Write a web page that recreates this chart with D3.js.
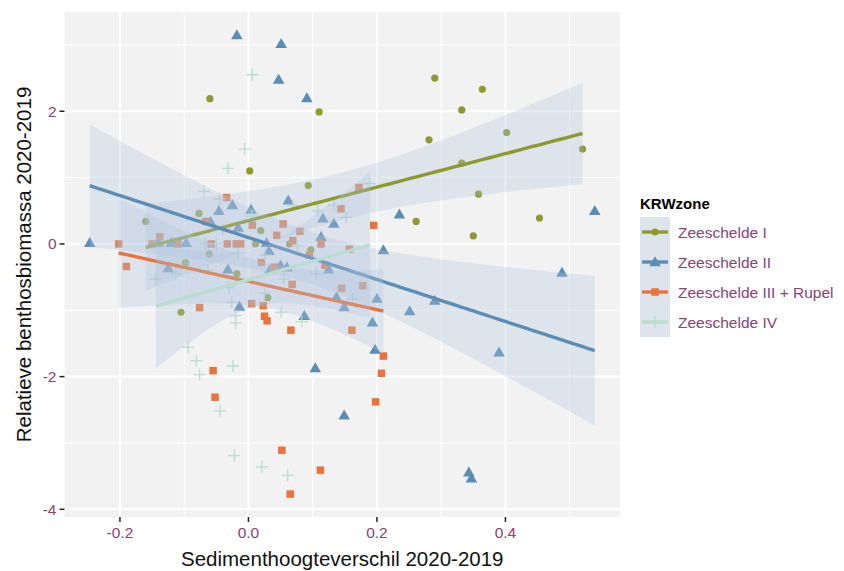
<!DOCTYPE html>
<html>
<head>
<meta charset="utf-8">
<script src="https://cdn.jsdelivr.net/npm/d3@7"></script>
<style>
  body { margin: 0; background: #ffffff; }
  text { font-family: "Liberation Sans", Arial, Helvetica, sans-serif; }
</style>
</head>
<body>
<svg id="chart" width="844" height="571"></svg>
<script>
// KRW zones (legend order) and their colours / symbols
const zones = ["Zeeschelde I", "Zeeschelde II", "Zeeschelde III + Rupel", "Zeeschelde IV"];
const zoneColors = ["#8f9a2e", "#5b8db5", "#e8743b", "#b9ddd0"];
const zoneShapes = ["circle", "triangle", "square", "plus"];

// Sediment height difference (x) and relative benthos biomass (y) per zone
const zoneI_x = [-0.060, 0.110, 0.002, 0.093, -0.077, -0.160, 0.019, 0.011, 0.064, 0.097, -0.061, -0.098, -0.018, 0.030, -0.105,
                 0.290, 0.364, 0.332, 0.281, 0.402, 0.520, 0.332, 0.358, 0.261, 0.453, 0.350];
const zoneI_y = [2.19, 1.99, 1.10, 0.88, 0.46, 0.34, 0.20, 0.00, 0.00, -0.09, -0.15, -0.28, -0.45, -0.81, -1.03,
                 2.50, 2.33, 2.02, 1.57, 1.68, 1.43, 1.22, 0.75, 0.34, 0.39, 0.12];

const zoneII_x = [-0.247, -0.140, -0.120, -0.097, -0.125, -0.059, -0.046, -0.025, -0.018, -0.016, -0.032, -0.014,
                  0.004, 0.028, 0.032, 0.033, 0.051, 0.047, 0.050, 0.060, 0.062, 0.087, 0.091, 0.104, 0.113, 0.116, 0.125,
                  0.133, 0.137, 0.149, 0.149, 0.193, 0.197, 0.200, 0.210, 0.235, 0.251, 0.290, 0.343, 0.347, 0.390,
                  0.488, 0.539];
const zoneII_y = [0.02, 0.02, 0.02, 0.02, -0.36, 0.34, 0.50, 0.59, 3.15, 0.25, -0.38, -0.94,
                  0.52, 0.02, -0.10, -0.39, 3.02, 2.48, -0.32, -0.35, 0.66, -1.08, 2.20, -1.87, 0.11, 0.39, -0.38,
                  0.31, -0.80, -0.95, -2.58, -1.18, -1.59, -0.82, -0.09, 0.45, -1.01, -0.85, -3.44, -3.53, -1.63,
                  -0.43, 0.50];

const zoneIII_x = [-0.202, -0.190, -0.150, -0.138, -0.110, -0.076, -0.067, -0.058, -0.055, -0.052, -0.034, -0.033,
                   -0.019, -0.012, 0.005, 0.006, 0.020, 0.023, 0.025, 0.029, 0.040, 0.044, 0.052, 0.054, 0.065,
                   0.066, 0.068, 0.069, 0.080, 0.095, 0.112, 0.113, 0.119, 0.144, 0.145, 0.157, 0.161, 0.172,
                   0.178, 0.195, 0.198, 0.207, 0.210];
const zoneIII_y = [0.00, -0.34, 0.00, 0.11, 0.00, -0.96, 0.34, 0.00, -1.91, -2.31, 0.70, 0.00,
                   0.00, 0.00, -0.90, 0.28, -0.28, -0.93, -1.09, -1.16, -0.35, 0.13, -3.11, 0.30, -3.77,
                   -1.30, -0.61, 0.05, 0.19, -0.17, -3.41, 0.00, -0.32, 0.53, -0.67, -0.08, -1.30, 0.85,
                   -0.63, 0.28, -2.38, -1.95, -1.69];

const zoneIV_x = [-0.144, -0.113, -0.094, -0.081, -0.076, -0.069, -0.067, -0.063, -0.050, -0.045, -0.044, -0.040,
                  -0.032, -0.030, -0.026, -0.024, -0.022, -0.020, -0.020, -0.016, -0.006, 0.005, 0.006, 0.021,
                  0.025, 0.026, 0.051, 0.055, 0.061, 0.069, 0.076, 0.083, 0.106, 0.108, 0.133, 0.152, 0.162, 0.189];
const zoneIV_y = [-0.53, -0.45, -1.56, -1.76, -1.97, 0.79, 0.00, -0.40, 0.00, 0.68, -2.52, 0.22,
                  1.14, -0.66, -0.88, -1.84, -3.19, -1.08, -1.19, -0.14, 1.43, 0.42, 2.55, -3.36,
                  -0.74, -0.17, -1.03, -0.53, -3.49, 0.58, -0.03, -1.17, -0.45, 0.50, 0.58, 0.40, -0.83, 0.91];

// Axis ticks
const xMajorTicks = [-0.2, 0.0, 0.2, 0.4];
const xTickLabels = ["-0.2", "0.0", "0.2", "0.4"];
const xMinorTicks = [-0.1, 0.1, 0.3, 0.5];
const yMajorTicks = [-4, -2, 0, 2];
const yTickLabels = ["-4", "-2", "0", "2"];
const yMinorTicks = [-3, -1, 1, 3];

const xTitle = "Sedimenthoogteverschil 2020-2019";
const yTitle = "Relatieve benthosbiomassa 2020-2019";
const legendTitle = "KRWzone";

// ---- layout ----
const svg = d3.select("#chart");
const panel = { left: 64.5, right: 620, top: 12, bottom: 517 };
const labelColor = "#8b4272";
const bandFill = "#b0c4de";
const bandOpacity = 0.3;

const seriesX = [zoneI_x, zoneII_x, zoneIII_x, zoneIV_x];
const seriesY = [zoneI_y, zoneII_y, zoneIII_y, zoneIV_y];
const series = zones.map((z, i) => ({
  zone: z, color: zoneColors[i], shape: zoneShapes[i],
  points: seriesX[i].map((xv, j) => ({ x: xv, y: seriesY[i][j] }))
}));

// scales with 5% expansion on both sides of the data range
function expanded(ext) { const p = (ext[1] - ext[0]) * 0.05; return [ext[0] - p, ext[1] + p]; }
const allX = seriesX.flat(), allY = seriesY.flat();
const x = d3.scaleLinear().domain(expanded(d3.extent(allX))).range([panel.left, panel.right]);
const y = d3.scaleLinear().domain(expanded(d3.extent(allY))).range([panel.bottom, panel.top]);

// panel background and grid
svg.append("rect").attr("x", panel.left).attr("y", panel.top)
  .attr("width", panel.right - panel.left).attr("height", panel.bottom - panel.top)
  .attr("fill", "#f2f2f2");

const grid = svg.append("g");
grid.selectAll(".xminor").data(xMinorTicks).join("line")
  .attr("x1", d => x(d)).attr("x2", d => x(d)).attr("y1", panel.top).attr("y2", panel.bottom)
  .attr("stroke", "#ffffff").attr("stroke-width", 1);
grid.selectAll(".yminor").data(yMinorTicks).join("line")
  .attr("y1", d => y(d)).attr("y2", d => y(d)).attr("x1", panel.left).attr("x2", panel.right)
  .attr("stroke", "#ffffff").attr("stroke-width", 1);
grid.selectAll(".xmajor").data(xMajorTicks).join("line")
  .attr("x1", d => x(d)).attr("x2", d => x(d)).attr("y1", panel.top).attr("y2", panel.bottom)
  .attr("stroke", "#ffffff").attr("stroke-width", 2);
grid.selectAll(".ymajor").data(yMajorTicks).join("line")
  .attr("y1", d => y(d)).attr("y2", d => y(d)).attr("x1", panel.left).attr("x2", panel.right)
  .attr("stroke", "#ffffff").attr("stroke-width", 2);

// symbols
function drawSymbol(g, shape, color) {
  if (shape === "plus") {
    const h = 6;
    g.append("path").attr("d", `M${-h},0H${h}M0,${-h}V${h}`)
      .attr("stroke", color).attr("stroke-width", 1.3).attr("fill", "none");
  } else if (shape === "circle") {
    g.append("circle").attr("r", 3.6).attr("fill", color);
  } else if (shape === "triangle") {
    g.append("path").attr("d", d3.symbol(d3.symbolTriangle, 58)()).attr("transform", "translate(0,1)").attr("fill", color);
  } else {
    g.append("path").attr("d", d3.symbol(d3.symbolSquare, 56)()).attr("fill", color);
  }
}

// points
const pointsLayer = svg.append("g");
series.forEach(s => {
  s.points.forEach(p => {
    const g = pointsLayer.append("g").attr("transform", `translate(${x(p.x)},${y(p.y)})`);
    drawSymbol(g, s.shape, s.color);
  });
});

// linear fit with 95% confidence band
function tQuantile975(df) {
  const z = 1.959964, z3 = z ** 3, z5 = z ** 5, z7 = z ** 7;
  return z + (z3 + z) / (4 * df) + (5 * z5 + 16 * z3 + 3 * z) / (96 * df * df)
    + (3 * z7 + 19 * z5 + 17 * z3 - 15 * z) / (384 * df ** 3);
}
function fitLine(pts) {
  const n = pts.length;
  const mx = d3.mean(pts, d => d.x), my = d3.mean(pts, d => d.y);
  const sxx = d3.sum(pts, d => (d.x - mx) ** 2);
  const sxy = d3.sum(pts, d => (d.x - mx) * (d.y - my));
  const b = sxy / sxx, a = my - b * mx;
  const sse = d3.sum(pts, d => (d.y - (a + b * d.x)) ** 2);
  const s = Math.sqrt(sse / (n - 2));
  const t = tQuantile975(n - 2);
  const [x0, x1] = d3.extent(pts, d => d.x);
  return d3.range(80).map(i => {
    const gx = x0 + (x1 - x0) * i / 79;
    const fit = a + b * gx;
    const se = s * Math.sqrt(1 / n + (gx - mx) ** 2 / sxx);
    return { x: gx, y: fit, lo: fit - t * se, hi: fit + t * se };
  });
}

const smoothLayer = svg.append("g");
const area = d3.area().x(d => x(d.x)).y0(d => y(d.lo)).y1(d => y(d.hi));
const line = d3.line().x(d => x(d.x)).y(d => y(d.y));
series.forEach(s => {
  const fit = fitLine(s.points);
  smoothLayer.append("path").attr("d", area(fit))
    .attr("fill", bandFill).attr("fill-opacity", bandOpacity);
  smoothLayer.append("path").attr("d", line(fit))
    .attr("fill", "none").attr("stroke", s.color).attr("stroke-width", 3.4);
});

// axes: ticks and labels
const axes = svg.append("g");
axes.selectAll(".xt").data(xMajorTicks).join("line")
  .attr("x1", d => x(d)).attr("x2", d => x(d)).attr("y1", panel.bottom).attr("y2", panel.bottom + 5)
  .attr("stroke", "#222").attr("stroke-width", 1.5);
axes.selectAll(".xl").data(xMajorTicks).join("text")
  .attr("x", d => x(d)).attr("y", panel.bottom + 21)
  .attr("text-anchor", "middle").attr("font-size", 15.5).attr("fill", labelColor)
  .text((d, i) => xTickLabels[i]);
axes.selectAll(".yt").data(yMajorTicks).join("line")
  .attr("y1", d => y(d)).attr("y2", d => y(d)).attr("x1", panel.left - 5).attr("x2", panel.left)
  .attr("stroke", "#222").attr("stroke-width", 1.5);
axes.selectAll(".yl").data(yMajorTicks).join("text")
  .attr("x", panel.left - 8).attr("y", d => y(d) + 5.5)
  .attr("text-anchor", "end").attr("font-size", 15.5).attr("fill", labelColor)
  .text((d, i) => yTickLabels[i]);

svg.append("text").attr("x", (panel.left + panel.right) / 2).attr("y", 566)
  .attr("text-anchor", "middle").attr("font-size", 20.5).attr("fill", "#111").text(xTitle);
svg.append("text")
  .attr("transform", `translate(31,${(panel.top + panel.bottom) / 2}) rotate(-90)`)
  .attr("text-anchor", "middle").attr("font-size", 20.5).attr("fill", "#111").text(yTitle);

// legend
const legend = svg.append("g").attr("transform", "translate(640,0)");
legend.append("text").attr("x", 0).attr("y", 209).attr("font-size", 15).attr("font-weight", "bold")
  .attr("fill", "#000").text(legendTitle);
const keyTop = 217, keyH = 30, keyW = 30;
series.forEach((s, i) => {
  const cy = keyTop + i * keyH + keyH / 2;
  legend.append("rect").attr("x", 0).attr("y", keyTop + i * keyH).attr("width", keyW).attr("height", keyH)
    .attr("fill", "#f2f2f2");
  legend.append("rect").attr("x", 0).attr("y", keyTop + i * keyH).attr("width", keyW).attr("height", keyH)
    .attr("fill", bandFill).attr("fill-opacity", bandOpacity);
  legend.append("line").attr("x1", 2).attr("x2", keyW - 2).attr("y1", cy).attr("y2", cy)
    .attr("stroke", s.color).attr("stroke-width", 3.4);
  const g = legend.append("g").attr("transform", `translate(${keyW / 2},${cy})`);
  drawSymbol(g, s.shape, s.color);
  legend.append("text").attr("x", 38).attr("y", cy + 5.5).attr("font-size", 15.5)
    .attr("fill", labelColor).text(s.zone);
});
</script>
</body>
</html>
